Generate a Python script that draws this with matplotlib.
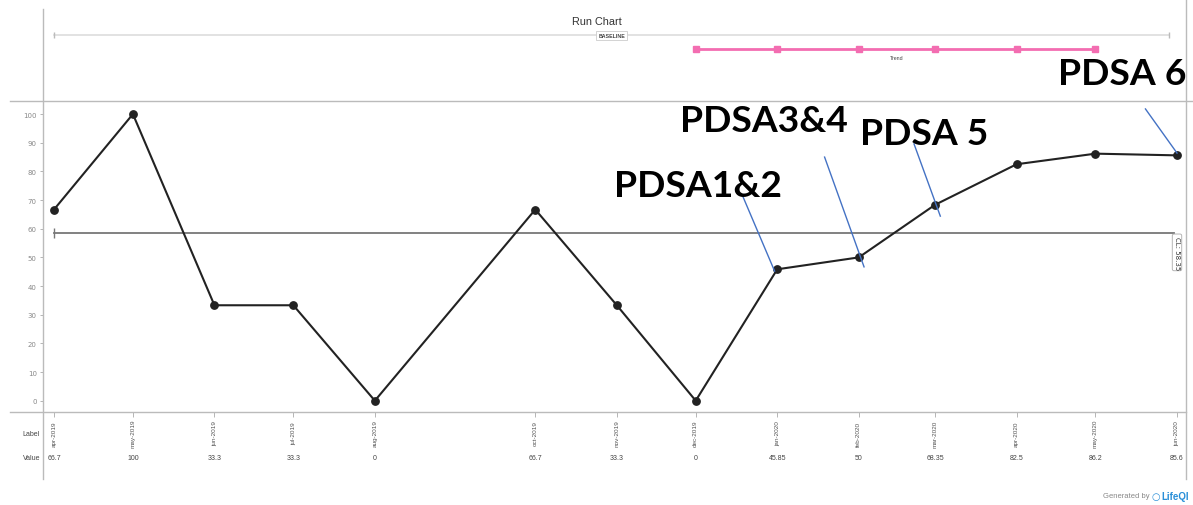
import matplotlib
matplotlib.use('Agg')
import matplotlib.pyplot as plt
import matplotlib.dates as mdates
import matplotlib.transforms as mtransforms
from matplotlib.lines import Line2D
import pandas as pd
import numpy as np

# data
months = ['apr-2019', 'may-2019', 'jun-2019', 'jul-2019', 'aug-2019', 'oct-2019', 'nov-2019',
          'dec-2019', 'jan-2020', 'feb-2020', 'mar-2020', 'apr-2020', 'may-2020', 'jun-2020']
values = [66.7, 100, 33.3, 33.3, 0, 66.7, 33.3, 0, 45.85, 50, 68.35, 82.5, 86.2, 85.6]
center_line = 58.35
yticks = list(range(0, 101, 10))
baseline_span = ['2019-04-01', '2020-05-29']
trend_months = ['dec-2019', 'jan-2020', 'feb-2020', 'mar-2020', 'apr-2020', 'may-2020']

# PDSA notes: label, text anchor (date, value), blue leader line (start, end)
pdsa_labels = ['PDSA1&2', 'PDSA3&4', 'PDSA 5', 'PDSA 6']
pdsa_text_at = [('2019-12-02', 71.4), ('2019-12-27', 94.1), ('2020-02-26', 89.6), ('2020-05-11', 110.5)]
pdsa_line_from = [('2019-12-19', 71.1), ('2020-01-19', 85.0), ('2020-02-22', 89.6), ('2020-05-20', 101.8)]
pdsa_line_to = [('2019-12-31', 45.2), ('2020-02-03', 46.7), ('2020-03-03', 64.4), ('2020-06-01', 86.4)]

W, H = 1193, 506

def fx(p):
    return p / W

def fy(p):
    return 1 - p / H

dates = pd.to_datetime(months, format='%b-%Y')
x = mdates.date2num(dates)
x0 = x[0]
day_px = 2.63

fig = plt.figure(figsize=(W / 100, H / 100), dpi=100)
ax = fig.add_axes([fx(43), fy(413), fx(1186) - fx(43), fy(102) - fy(413)])

ax.plot(x, values, color='#222222', lw=1.5, marker='o', ms=5.3, zorder=3)
cl_x = [x[0], x[-1] - 1]
ax.plot(cl_x, [center_line] * 2, color='#777777', lw=1.3, marker='|', ms=7,
        markevery=[0], zorder=2)
ax.text(x[-1], center_line - 0.8, 'CL: 58.35', rotation=-90, ha='center', va='top',
        fontsize=5, color='#333333',
        bbox=dict(boxstyle='round,pad=0.25', fc='white', ec='#aaaaaa', lw=0.6))

ax.set_xlim(x0 - 11 / day_px, x0 + (1186 - 54) / day_px)
ax.set_ylim((401.7 - 413) / 2.866, (401.7 - 102) / 2.866)
ax.set_yticks(yticks)
ax.set_yticklabels([str(t) for t in yticks])
ax.set_xticks(x)
ax.set_xticklabels([])
ax.tick_params(axis='y', length=2.5, width=0.6, color='#aaaaaa', labelsize=5,
               labelcolor='#888888', pad=2)
ax.tick_params(axis='x', length=3.5, width=0.6, color='#aaaaaa')
for s in ax.spines.values():
    s.set_visible(False)

# PDSA annotations
for lab, (td, tv), (d1, v1), (d2, v2) in zip(pdsa_labels, pdsa_text_at, pdsa_line_from, pdsa_line_to):
    ax.plot(mdates.date2num(pd.to_datetime([d1, d2])), [v1, v2], color='#4472c4', lw=1,
            clip_on=False, zorder=4)
    ax.text(mdates.date2num(pd.Timestamp(td)), tv, lab, ha='center', va='baseline',
            fontsize=26.8, fontweight='bold', family=['Lato', 'DejaVu Sans'], color='black',
            clip_on=False, zorder=5)

# frame lines
frame = [((43, 10), (43, 480)), ((10, 102), (1193, 102)), ((10, 413), (1186, 413)),
         ((1186, 0), (1186, 480))]
for (ax1, ay1), (ax2, ay2) in frame:
    fig.add_artist(Line2D([fx(ax1), fx(ax2)], [fy(ay1), fy(ay2)], color='#bbbbbb', lw=1))

bt = mtransforms.blended_transform_factory(ax.transData, fig.transFigure)

# top band: title, baseline, trend
fig.text(0.5, fy(22), 'Run Chart', ha='center', va='center', fontsize=7.8,
         family='Liberation Sans', color='#333333')
bx = mdates.date2num(pd.to_datetime(baseline_span))
ax.plot(bx, [fy(36)] * 2, transform=bt, color='#dddddd', lw=1.2, marker='|', ms=5,
        mec='#bbbbbb', clip_on=False)
ax.text(bx.mean(), fy(36.5), 'BASELINE', transform=bt, ha='center', va='center',
        fontsize=3.8, fontweight='bold', color='#444444', family='Liberation Sans',
        bbox=dict(boxstyle='square,pad=0.35', fc='white', ec='#cccccc', lw=0.6))
tx = mdates.date2num(pd.to_datetime(trend_months, format='%b-%Y'))
ax.plot(tx, [fy(50)] * len(tx), transform=bt, color='#f36db1', lw=2, marker='s', ms=5,
        clip_on=False)
ax.text(tx.mean(), fy(59), 'Trend', transform=bt, ha='center', va='center', fontsize=3.8,
        color='#444444', family='Liberation Sans')

# bottom table
fig.text(fx(40), fy(435), 'Label', ha='right', va='center', fontsize=5, color='#444444',
         family='Liberation Sans')
fig.text(fx(40), fy(459), 'Value', ha='right', va='center', fontsize=5, color='#444444',
         family='Liberation Sans')
for xi, m, v in zip(x, months, values):
    ax.text(xi, fy(434), m, transform=bt, rotation=90, ha='center', va='center', fontsize=4.6,
            color='#555555', family='Liberation Sans')
    ax.text(xi, fy(459), f'{v:g}', transform=bt, ha='center', va='center', fontsize=5,
            color='#444444', family='Liberation Sans')

# footer
fig.text(fx(1150), fy(497), 'Generated by', ha='right', va='center', fontsize=5.5,
         color='#888888', family='Liberation Sans')
fig.text(fx(1152), fy(497), '\u25cb', ha='left', va='center', fontsize=7, color='#2a8fd8',
         fontweight='bold')
fig.text(fx(1161), fy(497), 'LifeQI', ha='left', va='center', fontsize=7, color='#2a8fd8',
         fontweight='bold', family='Liberation Sans')

fig.savefig('out.png', dpi=100)
